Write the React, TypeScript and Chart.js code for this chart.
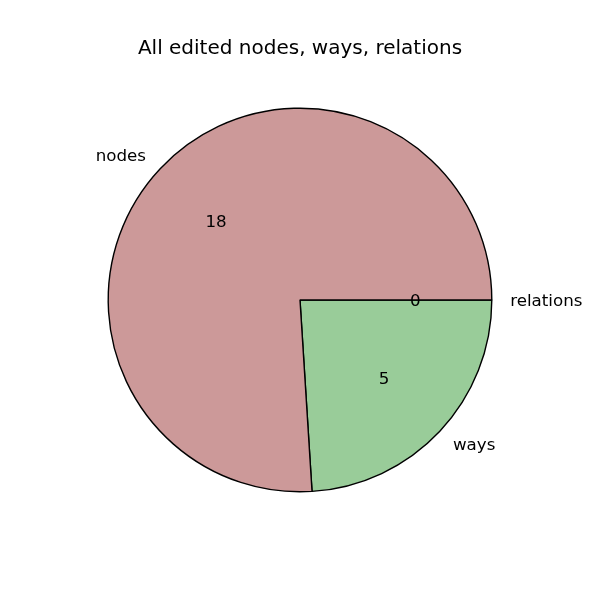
import React, { useEffect, useRef } from "react";
import { Chart, registerables } from "chart.js";

Chart.register(...registerables);

const title = "All edited nodes, ways, relations";
const categories = ["nodes", "ways", "relations"];
// wedge sizes (nodes ≈ 76%, ways ≈ 24%, relations 0)
const sliceValues = [19, 6, 0];
// numbers printed inside the wedges
const shownValues = ["18", "5", "0"];
const colors = ["#cc9999", "#99cc99", "#9999cc"];

const FONT = "'DejaVu Sans', sans-serif";

export default function App() {
  const ref = useRef<HTMLCanvasElement | null>(null);

  useEffect(() => {
    if (!ref.current) return;
    // Chart.js draws clockwise; matplotlib counter-clockwise. Reverse the order.
    const order = categories.map((_, i) => i).reverse();
    const labelsPlugin = {
      id: "mplLabels",
      afterDatasetsDraw(chart: any) {
        const ctx = chart.ctx;
        const meta = chart.getDatasetMeta(0);
        ctx.save();
        ctx.fillStyle = "#000";
        meta.data.forEach((arc: any, j: number) => {
          const i = order[j];
          const p = arc.getProps(["x", "y", "startAngle", "endAngle", "outerRadius"], true);
          const mid = (p.startAngle + p.endAngle) / 2;
          const c = Math.cos(mid);
          const s = Math.sin(mid);
          const R = 192;
          // category label at 1.1 r
          const lx = p.x + c * R * 1.1;
          const ly = p.y + s * R * 1.1 + 1.2;
          ctx.font = `16.7px ${FONT}`;
          ctx.textBaseline = "middle";
          ctx.textAlign = Math.abs(c) < 1e-9 ? "center" : c > 0 ? "left" : "right";
          ctx.fillText(categories[i], lx - (c > 0 ? 1 : 0), ly);
          // value at 0.6 r
          const vx = p.x + c * R * 0.6;
          const vy = p.y + s * R * 0.6 + 1.2;
          ctx.textAlign = "center";
          ctx.fillText(shownValues[i], vx, vy);
        });
        ctx.font = `20px ${FONT}`;
        ctx.textAlign = "center";
        ctx.textBaseline = "alphabetic";
        ctx.fillText(title, 300, 54);
        ctx.restore();
      },
    };

    const chart = new Chart(ref.current, {
      type: "pie",
      data: {
        labels: order.map((i) => categories[i]),
        datasets: [
          {
            data: order.map((i) => sliceValues[i]),
            backgroundColor: order.map((i) => colors[i]),
            borderColor: "#000000",
            borderWidth: 1.4,
          },
        ],
      },
      options: {
        responsive: false,
        animation: false,
        rotation: 90,
        layout: { padding: 107.5 },
        plugins: {
          legend: { display: false },
          title: { display: false },
          tooltip: { enabled: false },
        },
      },
      plugins: [labelsPlugin],
    });
    return () => chart.destroy();
  }, []);

  return (
    <div style={{ position: "fixed", left: 0, top: 0, width: 600, height: 600, background: "#fff" }}>
      <canvas ref={ref} width={600} height={600} />
    </div>
  );
}
